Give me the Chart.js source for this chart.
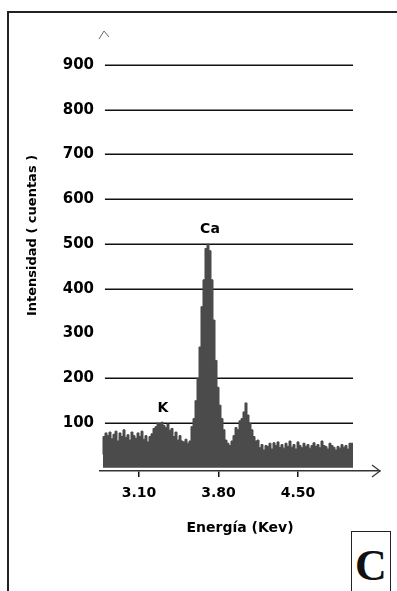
<!DOCTYPE html>
<html>
<head>
<meta charset="utf-8">
<script src="https://cdn.jsdelivr.net/npm/chart.js@4.4.1/dist/chart.umd.min.js"></script>
<style>
  html, body { margin: 0; padding: 0; background: #fff; }
  #wrap { position: relative; width: 397px; height: 591px; overflow: hidden; }
  #frame { position: absolute; left: 7px; top: 11px; width: 420px; height: 620px;
           border-left: 2px solid #222; border-top: 2px solid #222; }
  #tag { position: absolute; left: 351px; top: 531px; width: 38px; height: 80px;
         border: 1.5px solid #222; background: #fff; }
  #tag span { position: absolute; left: 0; width: 38px; top: 12px; text-align: center;
              font: bold 44px 'Liberation Serif', 'Times New Roman', serif; line-height: 44px; color: #111; }
  canvas { position: absolute; left: 0; top: 0; }
</style>
</head>
<body>
<div id="wrap">
  <div id="frame"></div>
  <canvas id="myChart" width="397" height="591"></canvas>
  <div id="tag"><span>C</span></div>
</div>
<script>
// DATA
// counts per channel (channel 0 starts at ~2.78 keV)
const counts = [
  30, 70, 78, 72, 80, 65, 75, 82, 60, 78,
  70, 85, 68, 74, 62, 80, 72, 66, 78, 70,
  82, 64, 72, 58, 70, 76, 88, 92, 100, 98,
  102, 95, 90, 98, 84, 88, 70, 80, 62, 72,
  60, 58, 64, 55, 60, 92, 110, 150, 200, 270,
  360, 420, 490, 500, 485, 420, 330, 240, 180, 140,
  110, 85, 62, 55, 50, 60, 72, 90, 85, 105,
  110, 125, 145, 118, 100, 85, 70, 60, 62, 45,
  52, 40, 50, 48, 55, 42, 56, 50, 58, 46,
  52, 44, 55, 48, 60, 46, 52, 42, 58, 50,
  45, 55, 48, 52, 44, 50, 56, 48, 52, 45,
  60, 50, 48, 42, 55, 50, 46, 40, 48, 44,
  52, 46, 50, 42, 55, 55
];
const startEnergy = 2.783;   // keV
const channelWidth = 0.01761; // keV
const energies = counts.map((c, i) => +(startEnergy + i * channelWidth).toFixed(4));

const xTicks = [3.10, 3.80, 4.50];
const yTicks = [100, 200, 300, 400, 500, 600, 700, 800, 900];
const gridValues = [100, 200, 400, 500, 600, 700, 800, 900]; // the 300 line is missing in the original

const peakLabels = ['K', 'Ca'];
const peakEnergies = [3.311, 3.725];
const peakCounts = [100, 500];

const FONT = "'DejaVu Sans', 'Liberation Sans', sans-serif";

// extra drawing: grid lines, axis arrows, peak names
const decor = {
  id: 'decor',
  beforeDatasetsDraw(chart) {
    const {ctx, scales: {x, y}} = chart;
    const x0 = x.getPixelForValue(2.80);
    const x1 = x.getPixelForValue(energies[energies.length - 1]);
    ctx.save();
    ctx.strokeStyle = '#111';
    ctx.lineWidth = 1.5;
    gridValues.forEach(v => {
      const py = Math.round(y.getPixelForValue(v)) + 0.25;
      ctx.beginPath();
      ctx.moveTo(x0, py);
      ctx.lineTo(x1, py);
      ctx.stroke();
    });
    ctx.restore();
  },
  afterDraw(chart) {
    const {ctx, chartArea, scales: {x, y}} = chart;
    ctx.save();
    // x axis arrow
    ctx.strokeStyle = '#333';
    ctx.lineWidth = 1.2;
    const ay = chartArea.bottom;
    const ax = chartArea.right;
    ctx.beginPath();
    ctx.moveTo(ax - 8, ay - 6);
    ctx.lineTo(ax, ay);
    ctx.lineTo(ax - 8, ay + 6);
    ctx.stroke();
    // y axis arrow (faint)
    ctx.strokeStyle = '#666';
    ctx.lineWidth = 1;
    ctx.beginPath();
    ctx.moveTo(99, 39);
    ctx.lineTo(104, 31);
    ctx.lineTo(109, 37);
    ctx.stroke();
    // peak names
    ctx.fillStyle = '#000';
    ctx.font = 'bold 14px ' + FONT;
    ctx.textAlign = 'center';
    ctx.textBaseline = 'middle';
    peakLabels.forEach((lab, i) => {
      ctx.fillText(lab, x.getPixelForValue(peakEnergies[i]), y.getPixelForValue(peakCounts[i]) - 15);
    });
    ctx.restore();
  }
};

const ctx = document.getElementById('myChart');
const myChart = new Chart(ctx, {
  type: 'line',
  data: {
    datasets: [{
      data: energies.map((e, i) => ({x: e, y: counts[i]})),
      stepped: 'after',
      fill: 'origin',
      backgroundColor: '#4b4b4b',
      borderColor: '#4b4b4b',
      borderWidth: 1,
      pointRadius: 0
    }]
  },
  options: {
    responsive: false,
    animation: false,
    events: [],
    layout: { padding: { left: 0, right: 17, top: 0, bottom: 0 } },
    plugins: { legend: { display: false }, tooltip: { enabled: false } },
    scales: {
      x: {
        type: 'linear',
        min: 2.7566,
        max: 5.222,
        afterFit: s => { s.height = 120; s.paddingLeft = 0; s.paddingRight = 0; },
        afterBuildTicks: s => { s.ticks = xTicks.map(v => ({value: v})); },
        grid: { display: true, drawOnChartArea: false, drawTicks: true, tickLength: 6, color: '#111', lineWidth: 1.5 },
        border: { display: true, color: '#333', width: 1.5 },
        ticks: {
          color: '#000', padding: 8,
          font: { family: FONT, size: 14, weight: 'bold' },
          callback: v => Number(v).toFixed(2)
        },
        title: {
          display: true, text: 'Energía (Kev)', color: '#000',
          font: { family: FONT, size: 14, weight: 'bold' },
          padding: { top: 0, bottom: 54 }
        }
      },
      y: {
        min: -7,
        max: 1045,
        afterFit: s => { s.width = 100; s.paddingTop = 0; s.paddingBottom = 0; },
        afterBuildTicks: s => { s.ticks = yTicks.map(v => ({value: v})); },
        grid: { display: false, drawTicks: false },
        border: { display: false },
        ticks: {
          color: '#000', padding: 6,
          font: { family: FONT, size: 15, weight: 'bold' }
        },
        title: {
          display: true, text: 'Intensidad ( cuentas )', color: '#000',
          font: { family: FONT, size: 13, weight: 'bold' },
          padding: { top: 25, bottom: 0 }
        }
      }
    }
  },
  plugins: [decor]
});
</script>
</body>
</html>
